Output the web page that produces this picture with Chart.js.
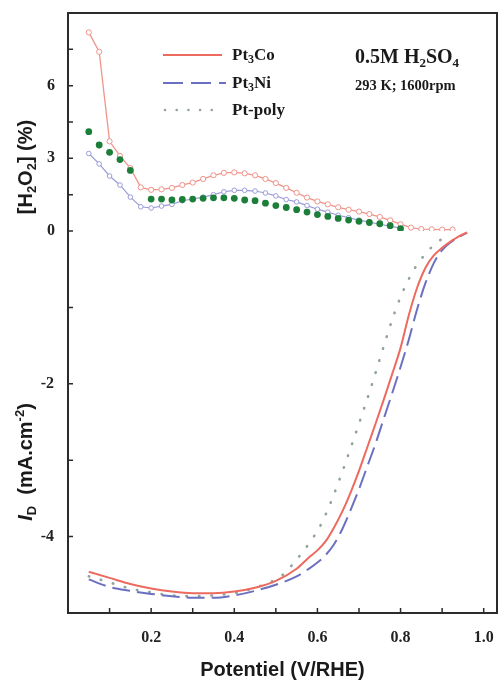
<!DOCTYPE html>
<html>
<head>
<meta charset="utf-8">
<script src="https://cdn.jsdelivr.net/npm/chart.js@4.4.1/dist/chart.umd.min.js"></script>
<style>
  html, body { margin: 0; padding: 0; background: #fff; }
  canvas { display: block; }
</style>
</head>
<body>
<canvas id="chart" width="502" height="682"></canvas>
<script>
// [H2O2] (%) - partie haute
const co_h2o2_x = [0.05, 0.075, 0.10, 0.125, 0.15, 0.175, 0.20, 0.225, 0.25, 0.275, 0.30, 0.325, 0.35, 0.375, 0.40, 0.425, 0.45, 0.475, 0.50, 0.525, 0.55, 0.575, 0.60, 0.625, 0.65, 0.675, 0.70, 0.725, 0.75, 0.775, 0.80, 0.825, 0.85, 0.875, 0.90, 0.925];
const co_h2o2 = [8.2, 7.4, 3.7, 3.1, 2.6, 1.8, 1.7, 1.72, 1.78, 1.9, 2.0, 2.15, 2.3, 2.4, 2.42, 2.38, 2.3, 2.15, 1.98, 1.78, 1.58, 1.38, 1.22, 1.1, 0.98, 0.88, 0.8, 0.7, 0.58, 0.44, 0.28, 0.14, 0.08, 0.07, 0.06, 0.06];

const ni_h2o2_x = [0.05, 0.075, 0.10, 0.125, 0.15, 0.175, 0.20, 0.225, 0.25, 0.275, 0.30, 0.325, 0.35, 0.375, 0.40, 0.425, 0.45, 0.475, 0.50, 0.525, 0.55, 0.575, 0.60, 0.625, 0.65, 0.675, 0.70, 0.725, 0.75, 0.775, 0.80];
const ni_h2o2 = [3.2, 2.77, 2.27, 1.9, 1.4, 1.0, 0.95, 1.03, 1.1, 1.25, 1.32, 1.4, 1.5, 1.62, 1.68, 1.68, 1.65, 1.57, 1.45, 1.3, 1.2, 1.05, 0.9, 0.78, 0.65, 0.55, 0.45, 0.37, 0.28, 0.2, 0.12];

const poly_h2o2_x = [0.05, 0.075, 0.10, 0.125, 0.15, 0.20, 0.225, 0.25, 0.275, 0.30, 0.325, 0.35, 0.375, 0.40, 0.425, 0.45, 0.475, 0.50, 0.525, 0.55, 0.575, 0.60, 0.625, 0.65, 0.675, 0.70, 0.725, 0.75, 0.775, 0.80];
const poly_h2o2 = [4.1, 3.55, 3.25, 2.95, 2.5, 1.32, 1.32, 1.28, 1.3, 1.32, 1.35, 1.37, 1.37, 1.35, 1.28, 1.25, 1.15, 1.05, 0.97, 0.88, 0.78, 0.68, 0.6, 0.52, 0.45, 0.4, 0.35, 0.3, 0.22, 0.1];

// I_D (mA.cm-2) - partie basse
const co_id_x = [0.05, 0.10, 0.15, 0.20, 0.25, 0.30, 0.35, 0.40, 0.45, 0.50, 0.55, 0.58, 0.60, 0.62, 0.64, 0.66, 0.68, 0.70, 0.72, 0.74, 0.76, 0.78, 0.80, 0.82, 0.84, 0.86, 0.88, 0.90, 0.92, 0.94, 0.96];
const co_id = [-4.46, -4.54, -4.62, -4.68, -4.72, -4.74, -4.74, -4.72, -4.67, -4.58, -4.42, -4.27, -4.18, -4.06, -3.88, -3.67, -3.42, -3.14, -2.83, -2.52, -2.2, -1.87, -1.53, -1.1, -0.74, -0.48, -0.32, -0.22, -0.14, -0.07, -0.02];

const ni_id_x = [0.05, 0.10, 0.15, 0.20, 0.25, 0.30, 0.35, 0.40, 0.45, 0.50, 0.55, 0.58, 0.60, 0.62, 0.64, 0.66, 0.68, 0.70, 0.72, 0.74, 0.76, 0.78, 0.80, 0.82, 0.84, 0.86, 0.88, 0.90, 0.92, 0.94, 0.96];
const ni_id = [-4.56, -4.66, -4.71, -4.75, -4.78, -4.8, -4.8, -4.77, -4.71, -4.63, -4.52, -4.42, -4.34, -4.24, -4.1, -3.9, -3.65, -3.38, -3.08, -2.78, -2.45, -2.12, -1.78, -1.42, -1.02, -0.68, -0.42, -0.25, -0.15, -0.08, -0.02];

const poly_id_x = [0.05, 0.10, 0.15, 0.20, 0.25, 0.30, 0.35, 0.40, 0.45, 0.50, 0.525, 0.545, 0.565, 0.585, 0.605, 0.63, 0.66, 0.685, 0.71, 0.735, 0.76, 0.785, 0.81, 0.835, 0.86, 0.885, 0.91];
const poly_id = [-4.52, -4.6, -4.68, -4.73, -4.77, -4.78, -4.77, -4.74, -4.67, -4.56, -4.46, -4.33, -4.2, -4.05, -3.88, -3.58, -3.15, -2.76, -2.36, -1.94, -1.5, -1.08, -0.74, -0.48, -0.3, -0.16, -0.07];

const seriesNames = ['Pt3Co', 'Pt3Ni', 'Pt-poly'];

const RED = '#ec6a5e', RED_L = '#f0938a';
const BLUE = '#6c70c0', BLUE_L = '#9a9cd8';
const GREEN = '#1b7f3a', GREY = '#8fa39b';
const SERIF = '"Liberation Serif", "Times New Roman", serif';
const SANS = '"Liberation Sans", Arial, sans-serif';

const pts = (xs, ys) => xs.map((x, i) => ({x: x, y: ys[i]}));

// texte avec indices / exposants
function richText(ctx, parts, x, y, align) {
    let w = 0;
    parts.forEach(p => { ctx.font = p.font; w += ctx.measureText(p.t).width; });
    let cx = align === 'center' ? x - w / 2 : x;
    parts.forEach(p => {
        ctx.font = p.font;
        ctx.fillText(p.t, cx, y + (p.dy || 0));
        cx += ctx.measureText(p.t).width;
    });
}

const decorations = {
    id: 'decorations',
    afterDraw(chart) {
        const {ctx, chartArea: a, scales} = chart;
        ctx.save();
        // cadre
        ctx.strokeStyle = '#2b2b2b';
        ctx.lineWidth = 2;
        ctx.strokeRect(a.left, a.top, a.right - a.left, a.bottom - a.top);
        // graduations vers l'intérieur
        ctx.lineWidth = 1.5;
        ctx.beginPath();
        scales.x.ticks.forEach(t => {
            const k = Math.round(t.value * 10);
            if (k <= 0 || Math.abs(t.value * 10 - k) > 0.01) return;
            const px = scales.x.getPixelForValue(t.value);
            ctx.moveTo(px, a.bottom);
            ctx.lineTo(px, a.bottom - 5);
        });
        [scales.yTop, scales.yBot].forEach(s => s.ticks.forEach(t => {
            const py = s.getPixelForValue(t.value);
            if (py <= a.top + 1 || py >= a.bottom - 1) return;
            ctx.moveTo(a.left, py);
            ctx.lineTo(a.left + 5, py);
        }));
        ctx.stroke();

        // légende
        const lx0 = 163, lx1 = 222, rows = [55, 83, 110];
        ctx.lineWidth = 2;
        ctx.strokeStyle = RED;
        ctx.beginPath(); ctx.moveTo(lx0, rows[0]); ctx.lineTo(lx1, rows[0]); ctx.stroke();
        ctx.strokeStyle = BLUE;
        ctx.setLineDash([20, 8]);
        ctx.beginPath(); ctx.moveTo(lx0, rows[1]); ctx.lineTo(lx1 + 4, rows[1]); ctx.stroke();
        ctx.setLineDash([]);
        ctx.fillStyle = GREY;
        for (let x = lx0 + 2; x <= lx1; x += 11.7) {
            ctx.beginPath(); ctx.arc(x, rows[2], 1.3, 0, Math.PI * 2); ctx.fill();
        }
        ctx.fillStyle = '#1a1a1a';
        ctx.textBaseline = 'alphabetic';
        const big = 'bold 17px ' + SERIF, sub = 'bold 12px ' + SERIF;
        richText(ctx, [{t: 'Pt', font: big}, {t: '3', font: sub, dy: 3}, {t: 'Co', font: big}], 232, rows[0] + 5);
        richText(ctx, [{t: 'Pt', font: big}, {t: '3', font: sub, dy: 3}, {t: 'Ni', font: big}], 232, rows[1] + 5);
        richText(ctx, [{t: seriesNames[2], font: big}], 232, rows[2] + 5);

        // conditions
        const f1 = 'bold 20px ' + SERIF, s1 = 'bold 13px ' + SERIF;
        richText(ctx, [{t: '0.5M H', font: f1}, {t: '2', font: s1, dy: 4}, {t: 'SO', font: f1}, {t: '4', font: s1, dy: 4}], 355, 63);
        richText(ctx, [{t: '293 K; 1600rpm', font: 'bold 14.5px ' + SERIF}], 355, 90);

        // titres des axes Y
        const ft = 'bold 20px ' + SANS, fs = 'bold 13px ' + SANS;
        ctx.save();
        ctx.translate(32, 167);
        ctx.rotate(-Math.PI / 2);
        richText(ctx, [{t: '[H', font: ft}, {t: '2', font: fs, dy: 4}, {t: 'O', font: ft}, {t: '2', font: fs, dy: 4}, {t: '] (%)', font: ft}], 0, 0, 'center');
        ctx.restore();
        ctx.save();
        ctx.translate(32, 462);
        ctx.rotate(-Math.PI / 2);
        richText(ctx, [{t: 'I', font: 'italic ' + ft}, {t: 'D', font: fs, dy: 4}, {t: '  (mA.cm', font: ft}, {t: '-2', font: fs, dy: -8}, {t: ')', font: ft}], 0, 0, 'center');
        ctx.restore();
        ctx.restore();
    }
};

new Chart(document.getElementById('chart').getContext('2d'), {
    type: 'line',
    data: {
        datasets: [
            {
                label: 'Pt3Co [H2O2]', data: pts(co_h2o2_x, co_h2o2), yAxisID: 'yTop', order: 1,
                borderColor: RED_L, borderWidth: 1.3, pointRadius: 2.6, pointBorderWidth: 1,
                pointBorderColor: RED_L, pointBackgroundColor: '#fff', tension: 0
            },
            {
                label: 'Pt3Ni [H2O2]', data: pts(ni_h2o2_x, ni_h2o2), yAxisID: 'yTop', order: 2,
                borderColor: BLUE_L, borderWidth: 1.2, pointRadius: 2.3, pointBorderWidth: 1,
                pointBorderColor: BLUE_L, pointBackgroundColor: '#fff', tension: 0
            },
            {
                label: 'Pt-poly [H2O2]', data: pts(poly_h2o2_x, poly_h2o2), yAxisID: 'yTop', order: 0,
                showLine: false, pointRadius: 3.4, pointBorderWidth: 0,
                pointBackgroundColor: GREEN
            },
            {
                label: 'Pt3Co', data: pts(co_id_x, co_id), yAxisID: 'yBot', order: 4,
                borderColor: RED, borderWidth: 2, pointRadius: 0, cubicInterpolationMode: 'monotone'
            },
            {
                label: 'Pt3Ni', data: pts(ni_id_x, ni_id), yAxisID: 'yBot', order: 5,
                borderColor: BLUE, borderWidth: 2, borderDash: [18, 7], pointRadius: 0, cubicInterpolationMode: 'monotone'
            },
            {
                label: 'Pt-poly', data: pts(poly_id_x, poly_id), yAxisID: 'yBot', order: 6,
                borderColor: GREY, borderWidth: 2.6, borderDash: [0.5, 12], borderCapStyle: 'round',
                pointRadius: 0, cubicInterpolationMode: 'monotone'
            }
        ]
    },
    options: {
        responsive: false,
        animation: false,
        devicePixelRatio: 1,
        layout: { padding: { top: 13, right: 3, left: 0, bottom: 0 } },
        plugins: { legend: { display: false }, tooltip: { enabled: false } },
        scales: {
            x: {
                type: 'linear', min: 0, max: 1.032,
                grid: { display: false }, border: { display: false },
                afterFit: s => { s.height = 69; s.paddingLeft = 0; s.paddingRight = 0; },
                ticks: {
                    stepSize: 0.1, padding: 7, color: '#222', maxRotation: 0, autoSkip: false, includeBounds: false,
                    font: { family: SERIF, size: 16, weight: 'bold' },
                    callback: v => {
                        const k = Math.round(v * 10);
                        if (Math.abs(v * 10 - k) > 0.01 || k <= 0 || k % 2) return '';
                        return (k / 10).toFixed(1);
                    }
                },
                title: {
                    display: true, text: 'Potentiel (V/RHE)', color: '#1a1a1a',
                    font: { family: SANS, size: 20, weight: 'bold' }, padding: { top: 0, bottom: 0 }
                }
            },
            yTop: {
                type: 'linear', position: 'left', stack: 'y', stackWeight: 218, weight: 1,
                min: 0, max: 9,
                grid: { display: false }, border: { display: false },
                afterFit: s => { s.width = 68; s.paddingTop = 0; s.paddingBottom = 0; },
                ticks: {
                    stepSize: 1.5, padding: 5, color: '#222', autoSkip: false, includeBounds: false,
                    font: { family: SERIF, size: 16, weight: 'bold' },
                    callback: v => (v === 0 || v === 3 || v === 6) ? String(v) : ''
                }
            },
            yBot: {
                type: 'linear', position: 'left', stack: 'y', stackWeight: 382, weight: 0,
                min: -5, max: 0,
                grid: { display: false }, border: { display: false },
                afterFit: s => { s.width = 68; s.paddingTop = 0; s.paddingBottom = 0; },
                ticks: {
                    stepSize: 1, padding: 6, color: '#222', autoSkip: false,
                    font: { family: SERIF, size: 16, weight: 'bold' },
                    callback: v => (v === -2 || v === -4) ? String(v) : ''
                }
            }
        }
    },
    plugins: [decorations]
});
</script>
</body>
</html>
